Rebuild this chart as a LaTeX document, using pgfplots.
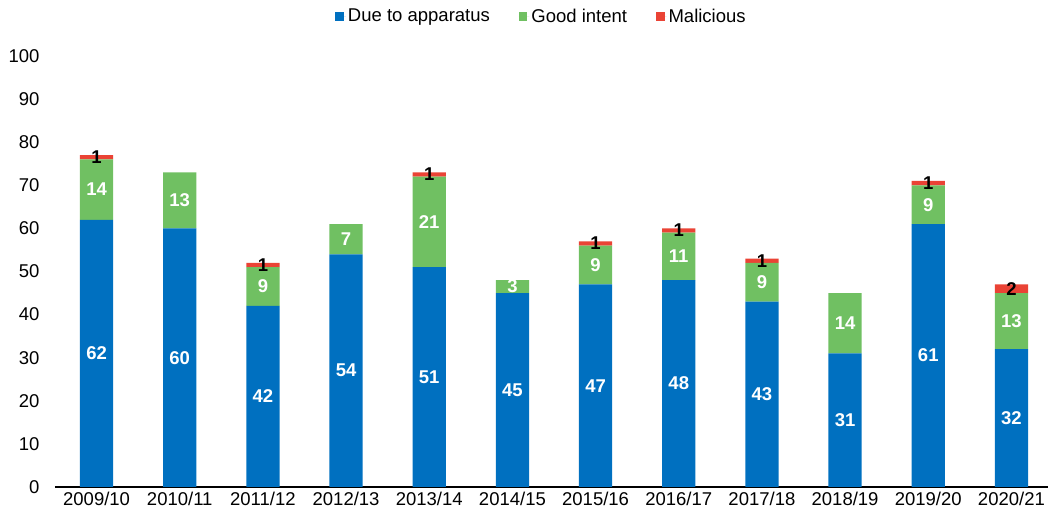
\documentclass[border=0pt]{standalone}
\usepackage{pgfplots}
\pgfplotsset{compat=1.18}
\usepackage{fontspec}
\setmainfont{Liberation Sans}
\definecolor{cblue}{RGB}{0,112,192}
\definecolor{cgreen}{RGB}{112,192,98}
\definecolor{cred}{RGB}{234,67,53}
\newcommand{\ff}{\fontsize{18.5}{22}\selectfont}
\begin{document}
\begin{tikzpicture}
\begin{axis}[
  scale only axis, width=993pt, height=431pt,
  ybar stacked, bar width=0.4,
  xmin=-0.5, xmax=11.44, ymin=0, ymax=100,
  xtick={0,...,11},
  xticklabels={2009/10,2010/11,2011/12,2012/13,2013/14,2014/15,2015/16,2016/17,2017/18,2018/19,2019/20,2020/21},
  ytick={0,10,...,100},
  axis x line*=bottom, axis y line*=left,
  y axis line style={draw=none},
  x axis line style={line width=2pt},
  major tick length=0pt,
  tick label style={font=\ff},
  /pgf/number format/assume math mode=true,
  yticklabel style={xshift=-12pt},
  xticklabel style={yshift=-2pt},
  point meta=rawy,
  nodes near coords={\pgfmathfloatifflags{\pgfplotspointmeta}{0}{}{\pgfmathprintnumber{\pgfplotspointmeta}}},
  every node near coord/.append style={anchor=center, font=\bfseries\ff, inner sep=0pt},
  legend style={at={(0.49,1)}, anchor=south, yshift=28pt, draw=none, legend columns=-1, font=\ff,
    /tikz/every even column/.append style={column sep=27pt}},
  legend image code/.code={\fill[#1] (0pt,-4.5pt) rectangle (8.5pt,4.5pt); \path (0pt,0pt) -- (10.5pt,0pt);},
]
\addplot[fill=cblue, draw=none, every node near coord/.append style={white}] coordinates {
(0,62) (1,60) (2,42) (3,54) (4,51) (5,45) (6,47) (7,48) (8,43) (9,31) (10,61) (11,32)};
\addplot[fill=cgreen, draw=none, every node near coord/.append style={white}] coordinates {
(0,14) (1,13) (2,9) (3,7) (4,21) (5,3) (6,9) (7,11) (8,9) (9,14) (10,9) (11,13)};
\addplot[fill=cred, draw=none, every node near coord/.append style={black}] coordinates {
(0,1) (1,0) (2,1) (3,0) (4,1) (5,0) (6,1) (7,1) (8,1) (9,0) (10,1) (11,2)};
\legend{Due to apparatus, Good intent, Malicious}
\coordinate (O) at (rel axis cs:0,0);
\end{axis}
\pgfresetboundingbox
\path[use as bounding box] (O) ++(-55pt,-34pt) rectangle ++(1048pt,521pt);
\end{tikzpicture}
\end{document}
